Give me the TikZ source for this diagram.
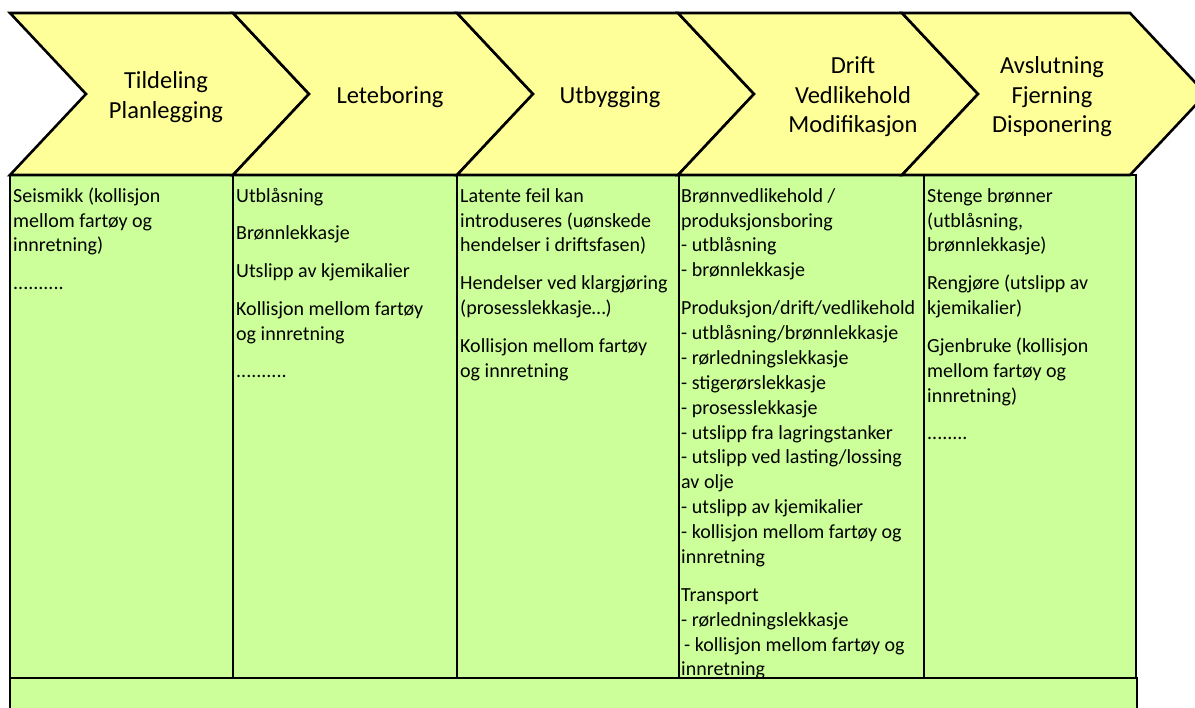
\documentclass[tikz,border=0pt]{standalone}
\usepackage{fontspec}
\setmainfont{Carlito}
\usepackage{tikz}
\definecolor{fase}{HTML}{FFFF99}
\definecolor{hendelse}{HTML}{CCFF99}
\tikzstyle{fasetekst}=[align=center, inner sep=0mm, font=\fontsize{24.5}{29.5}\selectfont]
\tikzstyle{liste}=[anchor=north west, align=left, inner sep=0mm, font=\fontsize{20}{24.9}\selectfont]

\begin{document}
\begin{tikzpicture}[x=1pt, y=-1pt]
    \useasboundingbox (0,0) rectangle (1195,708);
    \clip (0,0) rectangle (1195,708);
    \foreach \a/\b in {10/233, 233/457, 457/679, 679/924, 924/1136}{
      \draw[line width=1.8pt, fill=hendelse] (\a,175) rectangle (\b,678);
    }
    \draw[line width=1.8pt, fill=hendelse] (10,678) rectangle (1137,730);
    \foreach \a/\b in {10/233, 233/457, 457/678, 678/902, 902/1130}{
      \draw[line width=2.6pt, fill=fase] (\a,13) -- (\b,13) -- (\b+76,94) -- (\b,175) -- (\a,175) -- (\a+76,94) -- cycle;
    }

    \node[fasetekst] (tildeling) at (166,97) {Tildeling\\Planlegging};
    \node[fasetekst] (leteboring) at (390,97) {Leteboring};
    \node[fasetekst] (utbygging) at (610,97) {Utbygging};
    \node[fasetekst] (drift) at (853,97) {Drift\\Vedlikehold\\Modifikasjon};
    \node[fasetekst] (avslutning) at (1052,97) {Avslutning\\Fjerning\\Disponering};

    \node[liste] (seismikk) at (13,184.5) {\strut Seismikk (kollisjon\\mellom fartøy og\\innretning)\\[12.8pt]..........};
    \node[liste] (boring) at (236,184.5) {\strut Utblåsning\\[12.8pt]Brønnlekkasje\\[12.8pt]Utslipp av kjemikalier\\[12.8pt]Kollisjon mellom fartøy\\og innretning\\[12.8pt]..........};
    \node[liste] (bygging) at (460,184.5) {\strut Latente feil kan\\introduseres (uønskede\\hendelser i driftsfasen)\\[12.8pt]Hendelser ved klargjøring\\(prosesslekkasje…)\\[12.8pt]Kollisjon mellom fartøy\\og innretning};
    \node[liste] (driftliste) at (681,184.5) {\strut Brønnvedlikehold /\\produksjonsboring\\- utblåsning\\- brønnlekkasje\\[12.8pt]Produksjon/drift/vedlikehold\\- utblåsning/brønnlekkasje\\- rørledningslekkasje\\- stigerørslekkasje\\- prosesslekkasje\\- utslipp fra lagringstanker\\- utslipp ved lasting/lossing\\av olje\\- utslipp av kjemikalier\\- kollisjon mellom fartøy og\\innretning\\[12.8pt]Transport\\- rørledningslekkasje\\\hspace{3pt}- kollisjon mellom fartøy og\\innretning};
    \node[liste] (fjerning) at (927,184.5) {\strut Stenge brønner\\(utblåsning,\\brønnlekkasje)\\[12.8pt]Rengjøre (utslipp av\\kjemikalier)\\[12.8pt]Gjenbruke (kollisjon\\mellom fartøy og\\innretning)\\[12.8pt]........};
\end{tikzpicture}
\end{document}
